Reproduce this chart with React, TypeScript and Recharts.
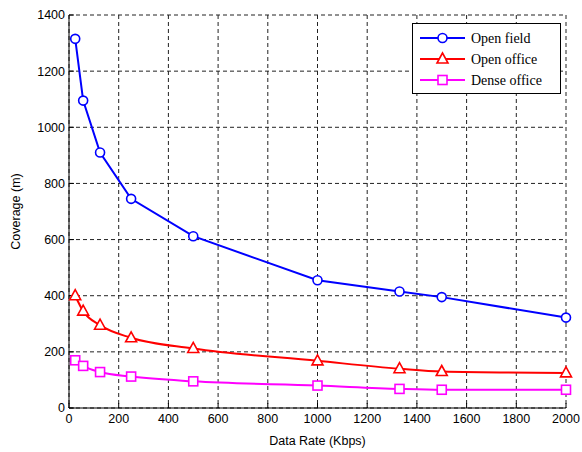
import { CartesianGrid, Line, LineChart, XAxis, YAxis } from 'recharts'

const dataRates = [25, 57, 125, 250, 500, 1000, 1330, 1500, 2000]
const openField = [1315, 1095, 910, 745, 612, 455, 415, 395, 322]
const openOffice = [400, 345, 295, 250, 212, 168, 140, 130, 125]
const denseOffice = [170, 150, 128, 112, 95, 80, 68, 65, 65]
const xTicks = [0, 200, 400, 600, 800, 1000, 1200, 1400, 1600, 1800, 2000]
const yTicks = [0, 200, 400, 600, 800, 1000, 1200, 1400]

const seriesInfo = [
  { key: 'field', name: 'Open field', color: '#0000ff', marker: 'circle' },
  { key: 'office', name: 'Open office', color: '#ff0000', marker: 'triangle' },
  { key: 'dense', name: 'Dense office', color: '#ff00ff', marker: 'square' },
]

const data = dataRates.map((x, i) => ({
  x,
  field: openField[i],
  office: openOffice[i],
  dense: denseOffice[i],
}))

function Marker({ cx, cy, kind, color }: { cx: number; cy: number; kind: string; color: string }) {
  if (cx == null || cy == null) return null
  if (kind === 'circle') {
    return <circle cx={cx} cy={cy} r={4.5} fill="#fff" stroke={color} strokeWidth={1.6} />
  }
  if (kind === 'triangle') {
    return (
      <polygon
        points={`${cx},${cy - 6} ${cx - 5.5},${cy + 4} ${cx + 5.5},${cy + 4}`}
        fill="#fff"
        stroke={color}
        strokeWidth={1.6}
      />
    )
  }
  return <rect x={cx - 4.5} y={cy - 4.5} width={9} height={9} fill="#fff" stroke={color} strokeWidth={1.6} />
}

// legend drawn outside the chart so it does not eat plot space
function LegendBox() {
  return (
    <svg width={150} height={72} style={{ position: 'absolute', left: 412, top: 23 }}>
      <rect x={0.5} y={0.5} width={148} height={70} fill="#fff" stroke="#000" strokeWidth={1} />
      {seriesInfo.map((s, i) => {
        const y = 15 + i * 21
        return (
          <g key={s.key}>
            <line x1={8} x2={53} y1={y} y2={y} stroke={s.color} strokeWidth={2} />
            <Marker cx={30.5} cy={y} kind={s.marker} color={s.color} />
            <text
              x={59}
              y={y + 5}
              fontFamily="'Liberation Serif', 'Times New Roman', serif"
              fontSize={14}
              fill="#000"
            >
              {s.name}
            </text>
          </g>
        )
      })}
    </svg>
  )
}

const fontFamily = "'Liberation Sans', Arial, sans-serif"
const tickFont = { fontSize: 12.5, fill: '#000', fontFamily }

export default function App() {
  return (
    <div style={{ position: 'fixed', left: 0, top: 0, width: 582, height: 452, background: '#fff' }}>
      <LineChart width={582} height={452} data={data} margin={{ top: 15, right: 16, bottom: 14, left: 0 }}>
        <CartesianGrid stroke="#222" strokeDasharray="4 3" strokeWidth={1} />
        <XAxis
          type="number"
          dataKey="x"
          domain={[0, 2000]}
          ticks={xTicks}
          interval={0}
          height={30}
          stroke="#000"
          tick={tickFont}
          tickSize={-5}
          tickMargin={11}
          label={{
            value: 'Data Rate (Kbps)',
            position: 'insideBottom',
            offset: -7,
            style: { fontSize: 12.5, fill: '#000', fontFamily },
          }}
        />
        <XAxis
          xAxisId="top"
          orientation="top"
          type="number"
          dataKey="x"
          domain={[0, 2000]}
          ticks={xTicks}
          height={0}
          stroke="#000"
          tick={false}
          tickSize={-5}
        />
        <YAxis
          type="number"
          domain={[0, 1400]}
          ticks={yTicks}
          interval={0}
          width={69}
          stroke="#000"
          tick={tickFont}
          tickSize={-5}
          tickMargin={9}
          label={{
            value: 'Coverage (m)',
            angle: -90,
            position: 'insideLeft',
            offset: 16,
            style: { fontSize: 12.5, fill: '#000', fontFamily, textAnchor: 'middle' },
          }}
        />
        <YAxis
          yAxisId="right"
          orientation="right"
          type="number"
          domain={[0, 1400]}
          ticks={yTicks}
          width={0}
          stroke="#000"
          tick={false}
          tickSize={-5}
        />
        <Line
          dataKey="field"
          name="Open field"
          type="linear"
          stroke="#0000ff"
          strokeWidth={2}
          isAnimationActive={false}
          dot={(p: any) => <Marker key={`f${p.index}`} cx={p.cx} cy={p.cy} kind="circle" color="#0000ff" />}
        />
        <Line
          dataKey="office"
          name="Open office"
          type="monotone"
          stroke="#ff0000"
          strokeWidth={2}
          isAnimationActive={false}
          dot={(p: any) => <Marker key={`o${p.index}`} cx={p.cx} cy={p.cy} kind="triangle" color="#ff0000" />}
        />
        <Line
          dataKey="dense"
          name="Dense office"
          type="monotone"
          stroke="#ff00ff"
          strokeWidth={2}
          isAnimationActive={false}
          dot={(p: any) => <Marker key={`d${p.index}`} cx={p.cx} cy={p.cy} kind="square" color="#ff00ff" />}
        />
      </LineChart>
      <LegendBox />
    </div>
  )
}
